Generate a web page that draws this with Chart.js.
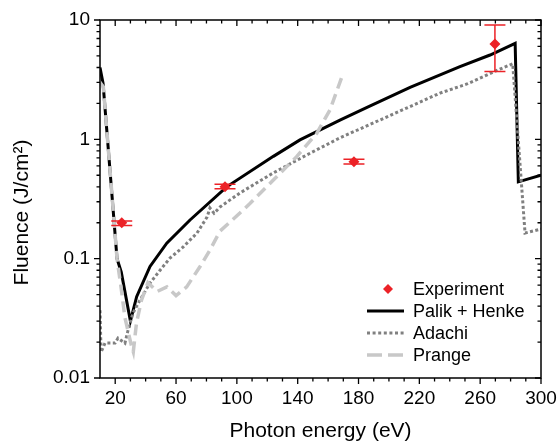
<!DOCTYPE html>
<html><head><meta charset="utf-8">
<script src="https://cdn.jsdelivr.net/npm/chart.js@4.4.0/dist/chart.umd.min.js"></script>
<style>html,body{margin:0;padding:0;background:#fff}#wrap{width:558px;height:442px}</style>
</head><body><div id="wrap"><canvas id="c" width="558" height="442"></canvas></div>
<script>
// ---- data ----
const palikE = [10, 12, 21.2, 24, 30, 34.1, 42.9, 53.9, 69.2, 93.3, 124, 141.5, 167.8, 185.6, 213.9, 246.7, 266.5, 283, 285.1, 300];
const palikF = [4.0, 2.95, 0.10, 0.077, 0.030, 0.048, 0.086, 0.135, 0.211, 0.40, 0.72, 0.99, 1.45, 1.85, 2.73, 4.06, 5.09, 6.38, 0.44, 0.50];

const adachiE = [10, 10.7, 13.3, 19.9, 21.8, 26.4, 28.4, 31.7, 36.3, 42.9, 49.5, 56, 64.6, 73.8, 80.4, 82.3, 85, 88.9, 102, 123.8, 146, 167.8, 194, 233.6, 251.3, 273, 281.4, 289.5, 300];
const adachiF = [0.037, 0.0165, 0.0196, 0.0196, 0.0216, 0.0196, 0.025, 0.035, 0.045, 0.0625, 0.080, 0.101, 0.125, 0.164, 0.223, 0.266, 0.24, 0.271, 0.355, 0.522, 0.74, 1.03, 1.45, 2.44, 2.91, 3.88, 4.3, 0.164, 0.177];

const prangeE = [10, 12.2, 21.2, 24.3, 26.4, 30.5, 31.9, 34, 37.3, 41.5, 47.5, 54, 60, 67, 75.8, 82.3, 88.9, 102, 108.6, 124, 139.3, 152.5, 161.2, 170];
const prangeF = [3.0, 2.75, 0.10, 0.052, 0.032, 0.019, 0.0166, 0.029, 0.045, 0.063, 0.053, 0.058, 0.049, 0.058, 0.086, 0.118, 0.17, 0.241, 0.29, 0.456, 0.716, 1.12, 1.76, 3.6];

const expE = [24.3, 92.2, 177, 269.7];
const expF = [0.20, 0.40, 0.65, 6.3];
const expLow = [0.19, 0.385, 0.62, 3.7];
const expHigh = [0.207, 0.42, 0.68, 9.1];

const seriesLabels = ['Experiment', 'Palik + Henke', 'Adachi', 'Prange'];
const xMajorTicks = [20, 60, 100, 140, 180, 220, 260, 300];
const xMinorTicks = [30, 40, 50, 70, 80, 90, 110, 120, 130, 150, 160, 170, 190, 200, 210, 230, 240, 250, 270, 280, 290];
const yMajorTicks = [0.01, 0.1, 1, 10];
const yTickLabels = ['0.01', '0.1', '1', '10'];
const yMinorTicks = [0.02, 0.03, 0.04, 0.05, 0.06, 0.07, 0.08, 0.09, 0.2, 0.3, 0.4, 0.5, 0.6, 0.7, 0.8, 0.9, 2, 3, 4, 5, 6, 7, 8, 9];
const xTitle = 'Photon energy (eV)';
const yTitle = 'Fluence (J/cm\u00B2)';

// ---- styles ----
const RED = '#ec2227', BLACK = '#000000', ADACHI = '#808080', PRANGE = '#c8c8c8';
const FONT = "'Liberation Sans', Arial, Helvetica, sans-serif";

const pts = (xs, ys) => xs.map((v, i) => ({x: v, y: ys[i]}));

const framePlugin = {
  id: 'frame',
  afterDatasetsDraw(chart) {
    const {ctx, scales: {x, y}} = chart;
    ctx.save();
    ctx.strokeStyle = RED; ctx.lineWidth = 1.5;
    expE.forEach((e, i) => {
      const px = x.getPixelForValue(e);
      const yl = y.getPixelForValue(expLow[i]);
      const yh = y.getPixelForValue(expHigh[i]);
      ctx.beginPath();
      ctx.moveTo(px, yl); ctx.lineTo(px, yh);
      ctx.moveTo(px - 10.5, yl); ctx.lineTo(px + 10.5, yl);
      ctx.moveTo(px - 10.5, yh); ctx.lineTo(px + 10.5, yh);
      ctx.stroke();
    });
    ctx.restore();
  },
  afterDraw(chart) {
    const {ctx, chartArea: a, scales: {x, y}} = chart;
    ctx.save();
    ctx.strokeStyle = '#000'; ctx.lineWidth = 1.5;
    ctx.strokeRect(a.left, a.top, a.right - a.left, a.bottom - a.top);
    ctx.lineWidth = 1.3;
    ctx.beginPath();
    const xt = (v, len) => {
      const p = x.getPixelForValue(v);
      ctx.moveTo(p, a.bottom); ctx.lineTo(p, a.bottom + len);
      ctx.moveTo(p, a.top); ctx.lineTo(p, a.top + len);
    };
    const yt = (v, len) => {
      const p = y.getPixelForValue(v);
      ctx.moveTo(a.left - len, p); ctx.lineTo(a.left, p);
      ctx.moveTo(a.right - len, p); ctx.lineTo(a.right, p);
    };
    xMajorTicks.forEach(v => xt(v, 6));
    xMinorTicks.forEach(v => xt(v, 3.5));
    yMajorTicks.forEach(v => yt(v, 6));
    yMinorTicks.forEach(v => yt(v, 3.5));
    ctx.stroke();

    // axis titles
    ctx.fillStyle = '#000';
    ctx.font = '21px ' + FONT;
    ctx.textAlign = 'center'; ctx.textBaseline = 'alphabetic';
    ctx.fillText(xTitle, (a.left + a.right) / 2, 437);
    ctx.save();
    ctx.translate(28, 212.5);
    ctx.rotate(-Math.PI / 2);
    ctx.fillText(yTitle, 0, 0);
    ctx.restore();

    // legend
    const lx0 = 367, lx1 = 404, tx = 413, rows = [289, 311, 333, 355];
    ctx.font = '18px ' + FONT;
    ctx.textAlign = 'left'; ctx.textBaseline = 'middle';
    chart.data.datasets.forEach((ds, i) => {
      const ry = rows[i];
      if (ds.showLine === false) {
        ctx.fillStyle = ds.backgroundColor;
        ctx.beginPath();
        ctx.moveTo(388, ry - 5); ctx.lineTo(393, ry); ctx.lineTo(388, ry + 5); ctx.lineTo(383, ry);
        ctx.closePath(); ctx.fill();
      } else {
        ctx.save();
        ctx.strokeStyle = ds.borderColor; ctx.lineWidth = ds.borderWidth;
        ctx.setLineDash(ds.legendDash || []);
        ctx.beginPath(); ctx.moveTo(lx0, ry); ctx.lineTo(lx1, ry); ctx.stroke();
        ctx.restore();
      }
      ctx.fillStyle = '#000';
      ctx.fillText(ds.label, tx, ry + 1);
    });
    ctx.restore();
  }
};

new Chart(document.getElementById('c'), {
  type: 'scatter',
  data: {
    datasets: [
      {label: seriesLabels[0], data: pts(expE, expF), showLine: false, pointStyle: 'rectRot', pointRadius: 5.5, backgroundColor: RED, borderColor: RED, borderWidth: 0, order: 0},
      {label: seriesLabels[1], data: pts(palikE, palikF), showLine: true, borderColor: BLACK, borderWidth: 3, pointRadius: 0, tension: 0, order: 3},
      {label: seriesLabels[2], data: pts(adachiE, adachiF), showLine: true, borderColor: ADACHI, borderWidth: 3, borderDash: [3, 2.4], legendDash: [3, 2.6], pointRadius: 0, tension: 0, order: 2},
      {label: seriesLabels[3], data: pts(prangeE, prangeF), showLine: true, borderColor: PRANGE, borderWidth: 3.5, borderDash: [11, 6], legendDash: [15, 6], pointRadius: 0, tension: 0, order: 1}
    ]
  },
  options: {
    responsive: false, animation: false, devicePixelRatio: 1,
    layout: {padding: {top: 20, right: 17, left: 0, bottom: 0}},
    plugins: {legend: {display: false}, tooltip: {enabled: false}},
    scales: {
      x: {
        type: 'linear', min: 10, max: 300,
        afterFit: s => { s.height = 64; s.paddingLeft = 0; s.paddingRight = 0; },
        afterBuildTicks: s => { s.ticks = xMajorTicks.map(v => ({value: v})); },
        grid: {display: false, drawTicks: false}, border: {display: false},
        ticks: {color: '#000', font: {family: FONT, size: 19}, padding: 9.5, maxRotation: 0, autoSkip: false,
                callback: v => String(v)}
      },
      y: {
        type: 'logarithmic', min: 0.01, max: 10,
        afterFit: s => { s.width = 100; s.paddingTop = 0; s.paddingBottom = 0; },
        afterBuildTicks: s => { s.ticks = yMajorTicks.map(v => ({value: v})); },
        grid: {display: false, drawTicks: false}, border: {display: false},
        ticks: {color: '#000', font: {family: FONT, size: 19}, padding: 10, autoSkip: false,
                callback: v => { const i = yMajorTicks.indexOf(v); return i >= 0 ? yTickLabels[i] : ''; }}
      }
    }
  },
  plugins: [framePlugin]
});
</script></body></html>
